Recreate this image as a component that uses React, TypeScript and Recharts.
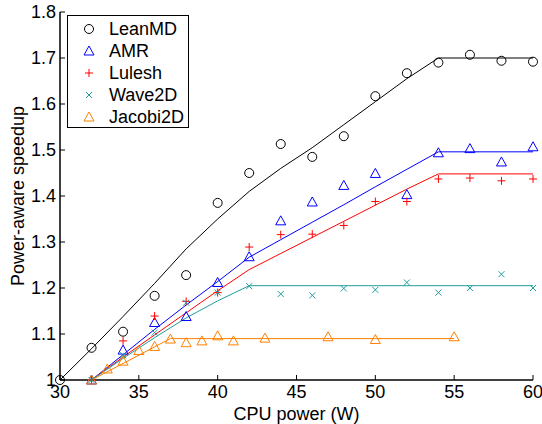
import { ComposedChart, Line, Scatter, XAxis, YAxis } from "recharts";

// measured points
const leanMdPower = [30, 32, 34, 36, 38, 40, 42, 44, 46, 48, 50, 52, 54, 56, 58, 60];
const leanMdSpeedup = [1.0, 1.07, 1.105, 1.183, 1.228, 1.385, 1.45, 1.513, 1.485, 1.53, 1.617, 1.667, 1.69, 1.707, 1.694, 1.692];
const amrPower = [32, 34, 36, 38, 40, 42, 44, 46, 48, 50, 52, 54, 56, 58, 60];
const amrSpeedup = [1.0, 1.065, 1.125, 1.138, 1.212, 1.268, 1.346, 1.387, 1.423, 1.449, 1.403, 1.494, 1.503, 1.474, 1.507];
const luleshPower = [32, 34, 36, 38, 40, 42, 44, 46, 48, 50, 52, 54, 56, 58, 60];
const luleshSpeedup = [1.0, 1.085, 1.139, 1.171, 1.19, 1.289, 1.316, 1.317, 1.336, 1.388, 1.388, 1.437, 1.439, 1.433, 1.437];
const wavePower = [32, 34, 36, 38, 40, 42, 44, 46, 48, 50, 52, 54, 56, 58, 60];
const waveSpeedup = [1.0, 1.054, 1.103, 1.168, 1.19, 1.204, 1.187, 1.184, 1.199, 1.196, 1.212, 1.19, 1.2, 1.23, 1.2];
const jacobiPower = [32, 33, 34, 35, 36, 37, 38, 39, 40, 41, 43, 47, 50, 55];
const jacobiSpeedup = [1.0, 1.024, 1.041, 1.064, 1.073, 1.089, 1.081, 1.085, 1.096, 1.085, 1.091, 1.094, 1.088, 1.094];

// model (fit) lines
const leanMdFitPower = [30, 32, 34, 36, 38, 40, 42, 44, 46, 48, 50, 52, 54, 60];
const leanMdFit = [1.0, 1.068, 1.138, 1.21, 1.285, 1.35, 1.41, 1.46, 1.505, 1.555, 1.605, 1.655, 1.7, 1.7];
const amrFitPower = [32, 34, 36, 38, 40, 42, 44, 46, 48, 50, 52, 54, 60];
const amrFit = [1.0, 1.055, 1.11, 1.163, 1.214, 1.267, 1.305, 1.343, 1.381, 1.42, 1.458, 1.496, 1.496];
const luleshFitPower = [32, 34, 36, 38, 40, 42, 44, 46, 48, 50, 52, 54, 60];
const luleshFit = [1.0, 1.05, 1.098, 1.146, 1.194, 1.24, 1.275, 1.31, 1.345, 1.38, 1.415, 1.448, 1.448];
const waveFitPower = [32, 34, 36, 38, 40, 42, 60];
const waveFit = [1.0, 1.047, 1.092, 1.135, 1.172, 1.205, 1.205];
const jacobiFitPower = [32, 37, 55];
const jacobiFit = [1.0, 1.09, 1.09];

const xTicks = [30, 35, 40, 45, 50, 55, 60];
const yTicks = [1, 1.1, 1.2, 1.3, 1.4, 1.5, 1.6, 1.7, 1.8];

const BLUE = "#0000ff";
const RED = "#ff0000";
const TEAL = "#1f9e9b";
const ORANGE = "#ff8000";
const FONT = "'Liberation Sans', Arial, sans-serif";

const zip = (xs: number[], ys: number[]) => xs.map((x, i) => ({ x, y: ys[i] }));

const circle = (color: string) => (p: any) => (
  <circle cx={p.cx} cy={p.cy} r={4.5} fill="none" stroke={color} strokeWidth={1} />
);
const triangle = (color: string) => (p: any) => (
  <path d={`M${p.cx},${p.cy - 5}L${p.cx + 5},${p.cy + 4}L${p.cx - 5},${p.cy + 4}Z`} fill="none" stroke={color} strokeWidth={1} />
);
const plus = (color: string) => (p: any) => (
  <path d={`M${p.cx - 4},${p.cy}H${p.cx + 4}M${p.cx},${p.cy - 4}V${p.cy + 4}`} fill="none" stroke={color} strokeWidth={1} />
);
const cross = (color: string) => (p: any) => (
  <path d={`M${p.cx - 3},${p.cy - 3}L${p.cx + 3},${p.cy + 3}M${p.cx - 3},${p.cy + 3}L${p.cx + 3},${p.cy - 3}`} fill="none" stroke={color} strokeWidth={1} />
);

const series = [
  { name: "LeanMD", color: "#000", marker: circle("#000"), pts: zip(leanMdPower, leanMdSpeedup), fit: zip(leanMdFitPower, leanMdFit) },
  { name: "AMR", color: BLUE, marker: triangle(BLUE), pts: zip(amrPower, amrSpeedup), fit: zip(amrFitPower, amrFit) },
  { name: "Lulesh", color: RED, marker: plus(RED), pts: zip(luleshPower, luleshSpeedup), fit: zip(luleshFitPower, luleshFit) },
  { name: "Wave2D", color: TEAL, marker: cross(TEAL), pts: zip(wavePower, waveSpeedup), fit: zip(waveFitPower, waveFit) },
  { name: "Jacobi2D", color: ORANGE, marker: triangle(ORANGE), pts: zip(jacobiPower, jacobiSpeedup), fit: zip(jacobiFitPower, jacobiFit) },
];

function LegendBox() {
  return (
    <div
      style={{
        position: "absolute",
        left: 67,
        top: 15,
        width: 120,
        height: 111,
        border: "1px solid #000",
        background: "#fff",
        fontFamily: FONT,
        fontSize: 18,
      }}
    >
      {series.map((s, i) => (
        <div key={s.name} style={{ position: "absolute", left: 0, top: 2 + i * 22, height: 22, display: "flex", alignItems: "center" }}>
          <svg width={40} height={22}>
            {s.marker({ cx: 21, cy: 11 })}
          </svg>
          <span style={{ marginLeft: 1 }}>{s.name}</span>
        </div>
      ))}
    </div>
  );
}

export default function App() {
  return (
    <div style={{ position: "absolute", left: 0, top: 0, width: 542, height: 424, background: "#fff" }}>
      <ComposedChart width={542} height={424} margin={{ top: 12, right: 9, left: 0, bottom: 0 }}>
        <XAxis
          dataKey="x"
          type="number"
          domain={[30, 60]}
          ticks={xTicks}
          height={44}
          tickSize={-5}
          tickMargin={10}
          stroke="#000"
          axisLine={{ strokeWidth: 1.5 }}
          tick={{ fill: "#000", fontSize: 18, fontFamily: FONT }}
          label={{ value: "CPU power (W)", position: "insideBottom", offset: 4, fill: "#000", fontSize: 18, fontFamily: FONT }}
        />
        <XAxis
          xAxisId="top"
          orientation="top"
          type="number"
          domain={[30, 60]}
          ticks={xTicks}
          allowDataOverflow
          height={0}
          tickSize={-5}
          tick={false}
          stroke="#000"
          axisLine={{ strokeWidth: 1.5 }}
        />
        <YAxis
          dataKey="y"
          type="number"
          domain={[1, 1.8]}
          ticks={yTicks}
          width={60}
          tickSize={-5}
          tickMargin={9}
          stroke="#000"
          axisLine={{ strokeWidth: 1.5 }}
          tick={{ fill: "#000", fontSize: 18, fontFamily: FONT }}
          tickFormatter={(v: number) => (v === 1 ? "1" : v.toFixed(1))}
          label={{
            content: () => (
              <text x={18} y={196} transform="rotate(-90 18 196)" textAnchor="middle" dominantBaseline="central" fill="#000" fontSize={18} fontFamily={FONT}>
                Power-aware speedup
              </text>
            ),
          }}
        />
        <YAxis
          yAxisId="right"
          orientation="right"
          type="number"
          domain={[1, 1.8]}
          ticks={yTicks}
          allowDataOverflow
          width={0}
          tickSize={-5}
          tick={false}
          stroke="#000"
          axisLine={{ strokeWidth: 1.5 }}
        />
        {series.map((s) => (
          <Line
            key={s.name + "-fit"}
            data={s.fit}
            dataKey="y"
            type="linear"
            stroke={s.color}
            strokeWidth={1}
            dot={false}
            activeDot={false}
            isAnimationActive={false}
          />
        ))}
        {series.map((s) => (
          <Scatter key={s.name} name={s.name} data={s.pts} dataKey="y" shape={s.marker} isAnimationActive={false} />
        ))}
      </ComposedChart>
      <LegendBox />
    </div>
  );
}
